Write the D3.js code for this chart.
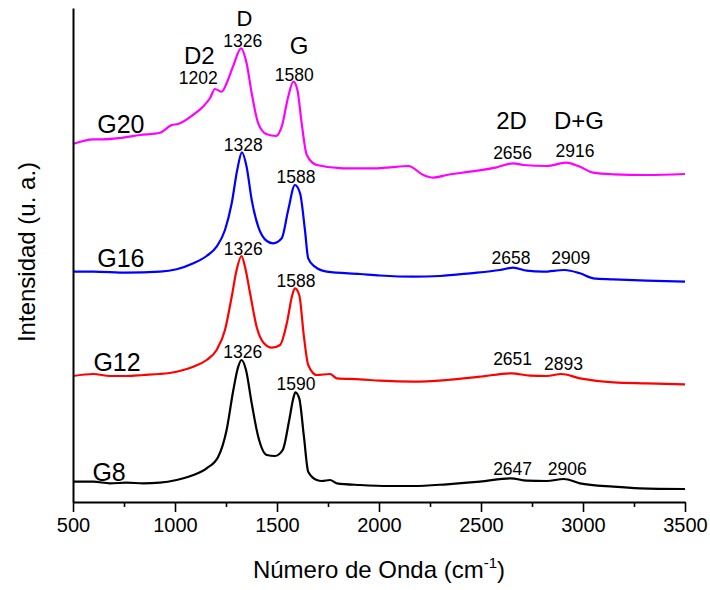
<!DOCTYPE html>
<html>
<head>
<meta charset="utf-8">
<script src="https://cdn.jsdelivr.net/npm/d3@7"></script>
<style>
  html, body { margin: 0; padding: 0; background: #fff; }
  svg { display: block; font-family: "Liberation Sans", Arial, sans-serif; }
</style>
</head>
<body>
<svg id="chart" width="710" height="590"></svg>
<script>
// ---- Data (wavenumber cm^-1, intensity in arbitrary units with vertical offsets) ----
const g20 = [[500,356],[600,360.7],[647,360.7],[730,362],[828,365],[926,367.3],[984,375],[1015,376],
  [1088,385],[1137,393.3],[1172,402],[1196,411],[1229,408.3],[1253,416.7],[1284,433.3],[1324,451.7],
  [1351,436.7],[1376,406.7],[1408,376.7],[1450,365.7],[1495,364],[1523,373.3],[1555,403.3],[1580,418.3],
  [1600,410],[1621,376.7],[1646,345],[1695,335],[1825,331.7],[1989,331.7],[2054,332.7],[2144,334],
  [2217,325],[2266,322.3],[2332,325],[2446,328.3],[2577,332.7],[2658,336.7],[2707,335],[2822,334],
  [2916,337.3],[2985,333.3],[3050,327.3],[3149,325.7],[3312,325],[3500,326]];

const g16 = [[500,228.3],[600,228.3],[763,227.3],[926,228.3],[1008,230.7],[1090,236.7],[1155,244],
  [1204,253.3],[1245,270],[1278,296.7],[1305,330],[1328,347.7],[1351,333.3],[1376,300],[1408,273.3],
  [1450,259],[1482,256.7],[1523,261.7],[1555,290],[1588,315],[1613,306.7],[1637,270],[1653,241.7],
  [1686,233.3],[1744,228.3],[1907,226],[2005,224.5],[2168,223.3],[2299,224],[2446,226.7],[2593,230],
  [2658,232.3],[2724,229.3],[2805,228.3],[2909,230],[2985,226.7],[3050,221.7],[3149,220.7],[3312,219.3],
  [3500,218.3]];

const g12 = [[500,124],[600,126],[681,124],[763,124],[845,125],[926,126],[1008,128.3],[1090,133.3],
  [1155,140],[1204,150],[1245,170],[1278,203.3],[1302,230],[1326,244],[1343,233.3],[1368,206.7],
  [1400,173.3],[1436,156.7],[1474,152.3],[1515,155],[1548,176.7],[1575,205],[1588,211.7],[1609,205],
  [1632,163.3],[1653,135],[1695,125],[1760,126],[1793,121.7],[1907,120.7],[2005,119.3],[2168,118.3],
  [2332,120],[2495,123.3],[2651,126.7],[2740,124.3],[2822,124],[2893,126],[2985,121.7],[3149,117.7],
  [3312,116.7],[3500,115.7]];

const g8 = [[500,18.3],[600,18.3],[681,16.7],[763,17.3],[845,16.7],[926,17.3],[1008,20],[1090,25],
  [1155,31.7],[1212,43.3],[1253,70],[1286,110],[1310,133.3],[1326,140],[1348,130],[1376,96.7],
  [1408,63.3],[1450,45],[1490,44],[1528,50],[1560,80],[1580,101.7],[1590,107.7],[1609,101.7],
  [1632,63.3],[1653,28.3],[1695,20],[1720,19],[1760,20],[1793,16.7],[1907,15],[2054,14],[2168,14],
  [2332,15.7],[2495,18.3],[2647,21.7],[2724,19.3],[2822,19],[2906,21],[2985,16.7],[3149,13.3],
  [3279,11.7],[3500,11]];

const seriesNames = ["G20", "G16", "G12", "G8"];
const seriesColors = ["#ff00ff", "#0000ff", "#ff0000", "#000000"];
const seriesData = [g20, g16, g12, g8];
// series label anchor [wavenumber, intensity]
const seriesLabelPos = [[619,376],[619,242.3],[600,137.7],[595,28.3]];

// peak position labels: [text, wavenumber, intensity]
const peakLabels = [
  ["1202",1114,422.3],["1326",1332,459],["1580",1585,425],["2656",2655,347.3],["2916",2961,349.3],
  ["1328",1335,355],["1588",1593,323.3],["2658",2647,242.3],["2909",2940,242.7],
  ["1326",1335,251.7],["1588",1593,219.3],["2651",2655,141],["2893",2904,136.7],
  ["1326",1332,148.3],["1590",1593,116.7],["2647",2655,31.7],["2906",2923,31.7]
];
// band labels: [text, wavenumber, intensity]
const bandLabels = [["D",1340,481.5],["D2",1119,445],["G",1608,455],["2D",2650,380],["D+G",2980,379.3]];

const majorTicks = [500,1000,1500,2000,2500,3000,3500];
const minorTicks = [750,1250,1750,2250,2750,3250];

// ---- Drawing ----
const svg = d3.select("#chart");
const x = d3.scaleLinear().domain([500, 3500]).range([73, 685]);
const y = d3.scaleLinear().domain([-2, 492]).range([502, 8]);

const line = d3.line()
  .x(d => x(d[0]))
  .y(d => y(d[1]))
  .curve(d3.curveMonotoneX);

seriesData.forEach((s, i) => {
  svg.append("path")
    .datum(s)
    .attr("fill", "none")
    .attr("stroke", seriesColors[i])
    .attr("stroke-width", 2.2)
    .attr("stroke-linejoin", "round")
    .attr("d", line);
});

// X axis: minor ticks
svg.append("g")
  .attr("transform", "translate(0,502)")
  .call(d3.axisBottom(x).tickValues(minorTicks).tickSize(5).tickFormat("").tickSizeOuter(0))
  .call(g => g.select(".domain").remove())
  .call(g => g.selectAll("line").attr("stroke", "#000").attr("stroke-width", 1.6));

// X axis: major ticks
svg.append("g")
  .attr("transform", "translate(0,502)")
  .call(d3.axisBottom(x).tickValues(majorTicks).tickSize(10).tickPadding(6).tickSizeOuter(0).tickFormat(d3.format("d")))
  .call(g => g.select(".domain").attr("stroke", "#000").attr("stroke-width", 2))
  .call(g => g.selectAll("line").attr("stroke", "#000").attr("stroke-width", 1.6))
  .call(g => g.selectAll("text")
    .attr("font-family", "'Liberation Sans', Arial, sans-serif")
    .attr("font-size", 20).attr("fill", "#000"));

// Y axis (no ticks)
svg.append("g")
  .attr("transform", "translate(73,0)")
  .call(d3.axisLeft(y).tickValues([]).tickSizeOuter(0))
  .call(g => g.select(".domain").attr("stroke", "#000").attr("stroke-width", 2));

// Axis titles
const xt = svg.append("text")
  .attr("x", 379).attr("y", 578)
  .attr("text-anchor", "middle")
  .attr("font-size", 24).attr("fill", "#000");
xt.append("tspan").text("Número de Onda (cm");
xt.append("tspan").attr("font-size", 15).attr("dy", -10).text("-1");
xt.append("tspan").attr("dy", 10).text(")");

svg.append("text")
  .attr("transform", "translate(35,252) rotate(-90)")
  .attr("text-anchor", "middle")
  .attr("font-size", 24).attr("fill", "#000")
  .text("Intensidad (u. a.)");

// Series labels
seriesNames.forEach((n, i) => {
  svg.append("text")
    .attr("x", x(seriesLabelPos[i][0]))
    .attr("y", y(seriesLabelPos[i][1]))
    .attr("dy", "0.36em")
    .attr("font-size", 25).attr("fill", "#000")
    .text(n);
});

// Peak labels
svg.selectAll("text.peak").data(peakLabels).enter().append("text")
  .attr("class", "peak")
  .attr("x", d => x(d[1])).attr("y", d => y(d[2]))
  .attr("dy", "0.36em").attr("text-anchor", "middle")
  .attr("font-size", 17.5).attr("fill", "#000")
  .text(d => d[0]);

// Band labels
svg.selectAll("text.band").data(bandLabels).enter().append("text")
  .attr("class", "band")
  .attr("x", d => x(d[1])).attr("y", d => y(d[2]))
  .attr("dy", "0.36em").attr("text-anchor", "middle")
  .attr("font-size", d => d[0] === "D" ? 22 : 24).attr("fill", "#000")
  .text(d => d[0]);
</script>
</body>
</html>
